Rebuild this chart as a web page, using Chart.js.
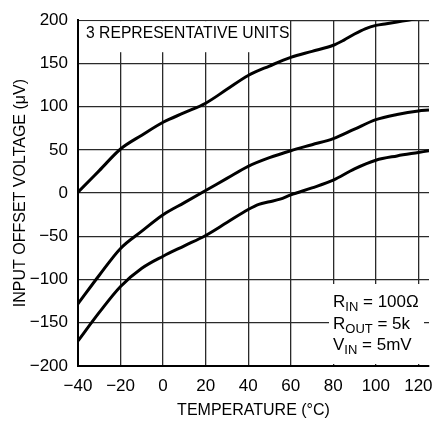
<!DOCTYPE html>
<html>
<head>
<meta charset="utf-8">
<script src="https://cdn.jsdelivr.net/npm/chart.js@4.4.1/dist/chart.umd.min.js"></script>
<style>
  html, body { margin: 0; padding: 0; background: #fff; }
</style>
</head>
<body>
<canvas id="offset-chart" width="432" height="423"></canvas>
<script>
// Temperatures (°C) and offsets (µV)
const tempA = [-40, -30, -20, -10, 0, 10, 20, 30, 40, 50, 60, 70, 80, 85, 90, 95, 100, 105, 110, 115, 120, 125];
const unitA = [1, 26, 51, 67, 82, 93, 104, 120, 136, 147, 157, 164, 171, 177, 184, 190, 194, 196, 198, 200, 202, 204];

const tempB = [-40, -30, -20, -10, 0, 10, 20, 30, 40, 50, 60, 70, 80, 90, 100, 110, 120, 125];
const unitB = [-128, -95, -64, -44, -25, -11, 3, 17, 31, 41, 49, 56, 63, 74, 85, 91, 95, 96];

const tempC = [-40, -30, -20, -10, 0, 10, 20, 30, 40, 45, 50, 55, 60, 70, 80, 90, 100, 110, 120, 125];
const unitC = [-171, -138, -108, -87, -73, -61, -49, -34, -19, -13, -10, -7, -2, 6, 15, 28, 38, 43, 47, 49];

const xTicks = [-40, -20, 0, 20, 40, 60, 80, 100, 120];
const yTicks = [-200, -150, -100, -50, 0, 50, 100, 150, 200];

const FONT = '"Liberation Sans Narrow", "Arial Narrow", "Liberation Sans", sans-serif';

function toPoints(xs, ys) {
  return xs.map((x, i) => ({ x: x, y: ys[i] }));
}

function minus(v) {
  return String(v).replace('-', '\u2212');
}

// Draws text with subscript parts: [[text, isSub], ...]
function drawRich(ctx, x, y, parts) {
  parts.forEach(([text, sub]) => {
    ctx.font = (sub ? '13px ' : '17px ') + FONT;
    ctx.fillText(text, x, sub ? y + 4 : y);
    x += ctx.measureText(text).width;
  });
}

// White label boxes over the grid, plus their text
const labelBoxes = {
  id: 'labelBoxes',
  beforeDatasetsDraw(chart) {
    const { ctx, chartArea: a } = chart;
    ctx.save();
    ctx.fillStyle = '#fff';
    ctx.fillRect(a.left + 1, a.top + 1, 211, 31);
    ctx.fillRect(329, 284, 95, 80);

    ctx.fillStyle = '#000';
    ctx.textBaseline = 'alphabetic';
    ctx.font = '15.7px ' + FONT;
    ctx.fillText('3 REPRESENTATIVE UNITS', 86, 38);

    drawRich(ctx, 333, 307, [['R', false], ['IN', true], [' = 100\u03a9', false]]);
    drawRich(ctx, 333, 329, [['R', false], ['OUT', true], [' = 5k', false]]);
    drawRich(ctx, 333, 350, [['V', false], ['IN', true], [' = 5mV', false]]);
    ctx.restore();
  },
};

const lineStyle = {
  borderColor: '#000',
  borderWidth: 3,
  pointRadius: 0,
  fill: false,
  cubicInterpolationMode: 'monotone',
};

const chart = new Chart(document.getElementById('offset-chart').getContext('2d'), {
  type: 'line',
  data: {
    datasets: [
      { data: toPoints(tempA, unitA), ...lineStyle },
      { data: toPoints(tempB, unitB), ...lineStyle },
      { data: toPoints(tempC, unitC), ...lineStyle },
    ],
  },
  options: {
    responsive: false,
    animation: false,
    layout: { padding: { top: 15, right: 3, left: 0, bottom: 0 } },
    plugins: {
      legend: { display: false },
      tooltip: { enabled: false },
    },
    scales: {
      x: {
        type: 'linear',
        min: -40,
        max: 125,
        afterBuildTicks: (scale) => { scale.ticks = xTicks.map((v) => ({ value: v })); },
        afterFit: (scale) => { scale.height = 57; scale.paddingLeft = 0; scale.paddingRight = 0; },
        grid: { color: '#2a2a2a', lineWidth: 1.3, drawTicks: false },
        border: { color: '#000', width: 2 },
        ticks: {
          color: '#000',
          font: { family: FONT, size: 17 },
          padding: 10,
          maxRotation: 0,
          callback: (v) => minus(v),
        },
        title: {
          display: true,
          text: 'TEMPERATURE (\u00b0C)',
          color: '#000',
          font: { family: FONT, size: 16 },
          padding: { top: 0, bottom: 3 },
        },
      },
      y: {
        min: -200,
        max: 200,
        afterBuildTicks: (scale) => { scale.ticks = yTicks.map((v) => ({ value: v })); },
        afterFit: (scale) => { scale.width = 78; },
        grid: { color: '#2a2a2a', lineWidth: 1.3, drawTicks: false },
        border: { color: '#000', width: 2 },
        ticks: {
          color: '#000',
          font: { family: FONT, size: 17 },
          padding: 10,
          callback: (v) => minus(v),
        },
        title: {
          display: true,
          text: 'INPUT OFFSET VOLTAGE (\u03bcV)',
          color: '#000',
          font: { family: FONT, size: 16 },
          padding: { top: 11, bottom: 0 },
        },
      },
    },
  },
  plugins: [labelBoxes],
});
</script>
</body>
</html>
